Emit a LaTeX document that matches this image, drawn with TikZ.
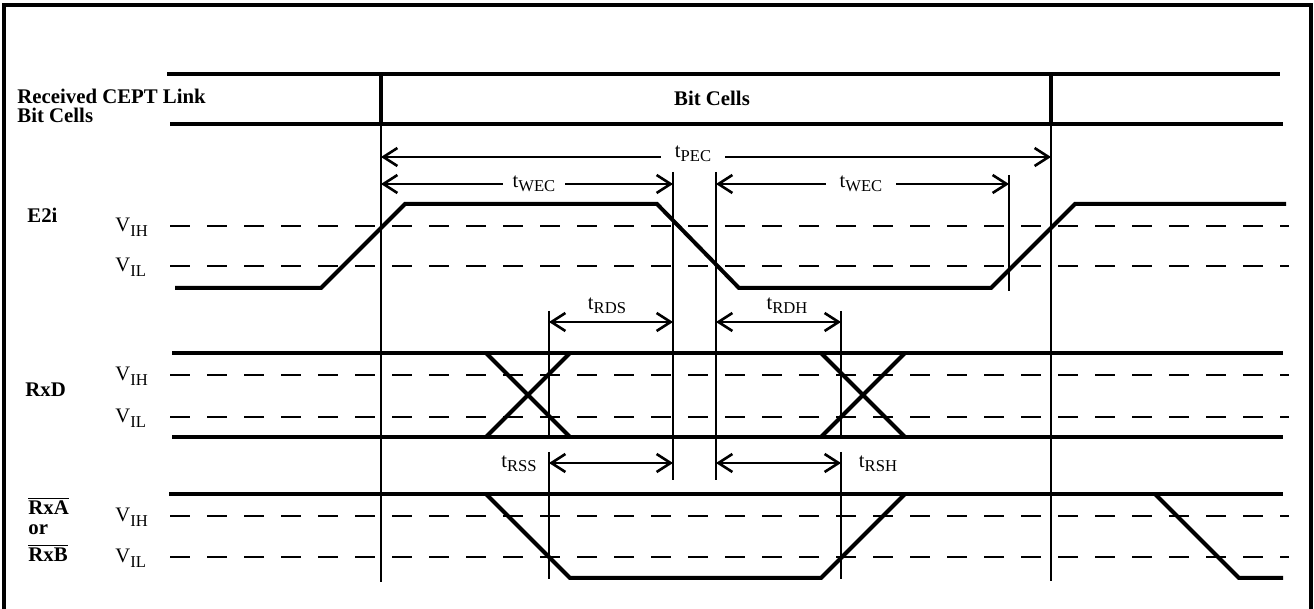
\documentclass[tikz,border=0pt]{standalone}
\usepackage{fontspec}
\setmainfont{Liberation Serif}
\usetikzlibrary{arrows.meta}
\newcommand\tsub[1]{\raisebox{-0.45ex}{\fontsize{8.3}{8.3}\selectfont #1}}
\begin{document}
\begin{tikzpicture}[x=0.5pt,y=-0.5pt,
  frame/.style={line width=1.6pt},
  sig/.style={line width=2pt},
  sepline/.style={line width=2.4pt},
  thinline/.style={line width=1pt},
  level/.style={line width=1pt,dash pattern=on 10pt off 8.5pt},
  dimarrow/.style={line width=1.3pt,{Straight Barb[length=7pt,width=9pt]}-{Straight Barb[length=7pt,width=9pt]}},
  namelab/.style={font=\bfseries\fontsize{10.4}{10.4}\selectfont,inner sep=0pt},
  vlab/.style={font=\fontsize{10.3}{10.3}\selectfont,inner sep=0pt,anchor=base west},
  tlab/.style={font=\fontsize{10.3}{10.3}\selectfont,inner sep=0pt},
  gaplab/.style={font=\fontsize{10.3}{10.3}\selectfont,fill=white,inner xsep=5pt,inner ysep=1pt}]
\useasboundingbox (0,0) rectangle (1314,609);
% frame
\draw[frame] (4,609) -- (4,5) -- (1311,5) -- (1311,609);
% bit cell block
\draw[sig] (167,74) -- (1280,74);
\draw[sig] (170,124) -- (1283,124);
\draw[sepline] (381,74) -- (381,124);
\draw[sepline] (1051,74) -- (1051,124);
\node[namelab,anchor=base west] (rcl) at (17,104) {Received CEPT Link};
\node[namelab,anchor=base west] (rcl2) at (17,123) {Bit Cells};
\node[namelab] (bc) at (712,98) {Bit Cells};
% vertical reference lines
\coordinate (va1) at (381,124); \coordinate (vb1) at (381,582);
\coordinate (va2) at (1051,124); \coordinate (vb2) at (1051,581);
\coordinate (va3) at (673,172); \coordinate (vb3) at (673,480);
\coordinate (va4) at (716,172); \coordinate (vb4) at (716,480);
\coordinate (va5) at (1009,175); \coordinate (vb5) at (1009,291);
\draw[thinline] (va1) -- (vb1);
\draw[thinline] (va2) -- (vb2);
\draw[thinline] (va3) -- (vb3);
\draw[thinline] (va4) -- (vb4);
\draw[thinline] (va5) -- (vb5);
\draw[thinline] (549,311) -- (549,437) (549,452) -- (549,579);
\draw[thinline] (841,311) -- (841,437) (841,452) -- (841,579);
% threshold levels
\foreach \yy in {226,266,375,417,516,557} {\draw[level] (170,\yy) -- (1289,\yy);}
% E2i
\node[namelab,anchor=west] (e2i) at (27,215) {E2i};
\node[vlab] (e2ih) at (115,232) {V\tsub{IH}};
\node[vlab] (e2il) at (115,272) {V\tsub{IL}};
\draw[sig,line join=miter] (175,288) -- (321,288) -- (405,204) -- (657,204) -- (739,288) -- (991,288) -- (1075,204) -- (1286,204);
% RxD
\node[namelab,anchor=west] (rxd) at (25,390) {RxD};
\node[vlab] (rxdh) at (115,381) {V\tsub{IH}};
\node[vlab] (rxdl) at (115,423) {V\tsub{IL}};
\draw[sig] (172,353) -- (1283,353);
\draw[sig] (172,437) -- (1283,437);
\draw[sig] (486,353) -- (570,437) (486,437) -- (570,353);
\draw[sig] (821,353) -- (905,437) (821,437) -- (905,353);
% RxA / RxB
\node[namelab,anchor=base west] (rxa) at (28,515) {$\overline{\mbox{RxA}}$};
\node[namelab,anchor=base west] (rxor) at (28,535) {or};
\node[namelab,anchor=base west] (rxb) at (28,562) {$\overline{\mbox{RxB}}$};
\node[vlab] (rxah) at (115,522) {V\tsub{IH}};
\node[vlab] (rxal) at (115,563) {V\tsub{IL}};
\draw[sig] (169,494) -- (1283,494);
\draw[sig,line join=miter] (486,494) -- (570,578) -- (821,578) -- (905,494);
\draw[sig,line join=miter] (1155,494) -- (1239,578) -- (1283,578);
% timing arrows
\coordinate (pa) at (381,157); \coordinate (pb) at (1051,157);
\draw[dimarrow] (pa) -- (pb);
\node[gaplab,inner xsep=7pt] (tpec) at (693,154) {t\tsub{PEC}};
\coordinate (wa) at (381,184); \coordinate (wb) at (673,184);
\draw[dimarrow] (wa) -- (wb);
\node[gaplab] (twec1) at (534,184) {t\tsub{WEC}};
\coordinate (wc) at (716,184); \coordinate (wd) at (1009,184);
\draw[dimarrow] (wc) -- (wd);
\node[gaplab,inner xsep=7pt] (twec2) at (861,184) {t\tsub{WEC}};
\coordinate (da) at (549,322); \coordinate (db) at (673,322);
\draw[dimarrow] (da) -- (db);
\node[tlab] (trds) at (607,306) {t\tsub{RDS}};
\coordinate (dc) at (716,322); \coordinate (dd) at (841,322);
\draw[dimarrow] (dc) -- (dd);
\node[tlab] (trdh) at (787,306) {t\tsub{RDH}};
\coordinate (sa) at (549,463); \coordinate (sb) at (673,463);
\draw[dimarrow] (sa) -- (sb);
\node[tlab] (trss) at (519,464) {t\tsub{RSS}};
\coordinate (sc) at (716,463); \coordinate (sd) at (841,463);
\draw[dimarrow] (sc) -- (sd);
\node[tlab] (trsh) at (878,464) {t\tsub{RSH}};
\end{tikzpicture}
\end{document}
